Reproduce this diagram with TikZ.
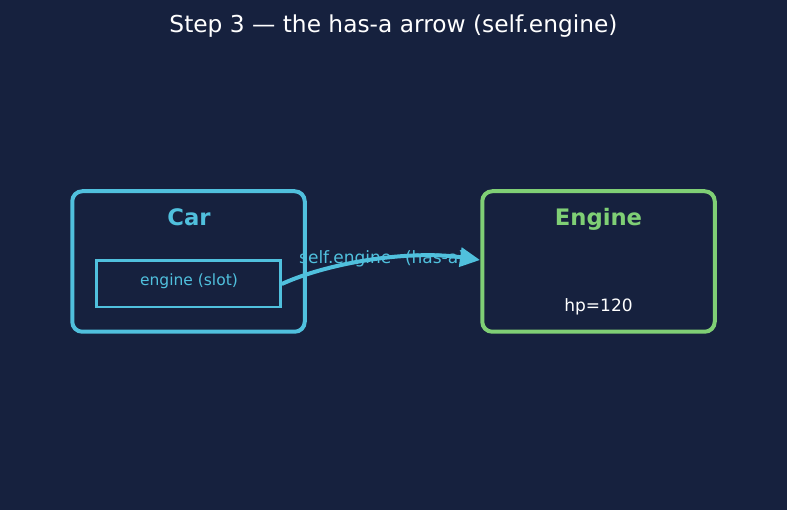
\documentclass[tikz,border=0pt]{standalone}
\usepackage{fontspec}
\setmainfont{DejaVu Sans}
\usepackage{tikz}
\usetikzlibrary{arrows.meta, positioning}

\definecolor{bgblue}{HTML}{16213E}
\definecolor{slotcyan}{HTML}{50C0DD}
\definecolor{partgreen}{HTML}{7FCF75}

\begin{document}
\begin{tikzpicture}[x=1pt, y=-1pt, node distance=173.5pt,
		classbox/.style={rounded corners=10pt, line width=4pt, fill=bgblue,
			minimum width=232.5pt, minimum height=140.5pt, inner sep=0pt},
		classname/.style={font=\fontsize{22.7}{26}\bfseries\selectfont, anchor=base},
		plaintext/.style={font=\fontsize{17}{20}\selectfont}]
		
		% Background
		\fill[bgblue] (0,0) rectangle (787,510);
		\useasboundingbox (0,0) rectangle (787,510);
		
		% Title
		\node[white, font=\fontsize{23.3}{27}\selectfont] (title) at (393.5,26) {Step 3 --- the has-a arrow (self.engine)};
		
		% Nodes
		\node[classbox, draw=slotcyan] (car) at (188.5,261.5) {};
		\node[classname, text=slotcyan] (carname) at (189,226) {Car};
		\node[draw=slotcyan, line width=2.5pt, minimum width=184pt, minimum height=46.5pt, inner sep=0pt] (slot) at (188.5,284) {};
		\node[text=slotcyan, font=\fontsize{15.5}{18}\selectfont] (slotname) at (189,281.5) {engine (slot)};
		
		\node[text=slotcyan, plaintext, anchor=west, inner sep=0pt] (hasa) at (299,259) {self.engine\ \ \,(has-a)};
		
		% Arrows
		\draw[-{Triangle[length=20pt, width=19pt]}, slotcyan, line width=4pt] (slot.east) .. controls (330,262) and (410,250) .. (480,260) coordinate (tip);
		
		\node[classbox, draw=partgreen, right=of car] (engine) {};
		\node[classname, text=partgreen] (enginename) at (598.5,226) {Engine};
		\node[text=white, plaintext] (hp) at (598.5,307) {hp=120};
		
\end{tikzpicture}
\end{document}
